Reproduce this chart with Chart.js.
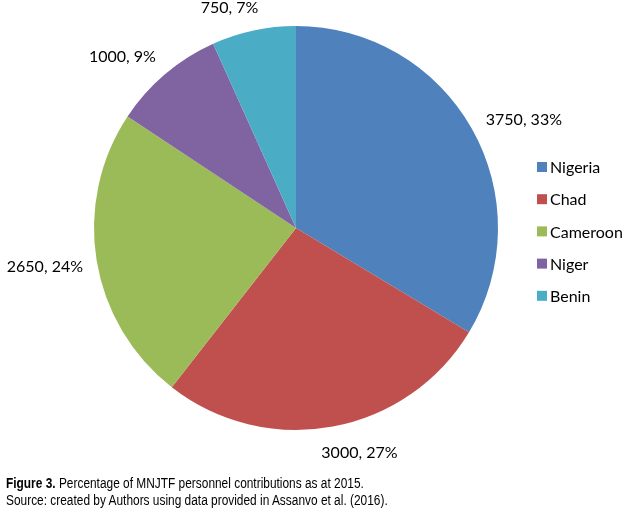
<!DOCTYPE html>
<html>
<head>
<meta charset="utf-8">
<script src="https://cdn.jsdelivr.net/npm/chart.js@4.4.0/dist/chart.umd.min.js"></script>
<style>
  html, body { margin: 0; padding: 0; background: #fff; }
  #wrap { position: relative; width: 627px; height: 511px; }
  #pie { position: absolute; left: 0; top: 0; }
  .caption {
    position: absolute; left: 6px; top: 475px;
    font-family: "Liberation Sans", Arial, sans-serif;
    font-size: 14px; line-height: 17px; color: #000;
    white-space: nowrap;
    transform: scaleX(0.85); transform-origin: 0 0;
  }
</style>
</head>
<body>
<div id="wrap">
  <canvas id="pie" width="627" height="511"></canvas>
  <div class="caption">
    <b>Figure 3.</b> Percentage of MNJTF personnel contributions as at 2015.<br>
    Source: created by Authors using data provided in Assanvo et al. (2016).
  </div>
</div>
<script>
// MNJTF personnel contributions, 2015
const countries = ['Nigeria', 'Chad', 'Cameroon', 'Niger', 'Benin'];
const troops = [3750, 3000, 2650, 1000, 750];
const shares = ['33%', '27%', '24%', '9%', '7%'];
const sliceColors = ['#4F81BD', '#C0504D', '#9BBB59', '#8064A2', '#4BACC6'];

const labelFont = '16px Lato, "Open Sans", sans-serif';
// Excel nudges some labels off the slice middle (degrees)
const labelNudgeDeg = [3.8, -5.3, 0.8, -4.9, -4.6];

// labels just outside each slice, Excel style
const outsideLabels = {
    id: 'outsideLabels',
    afterDatasetsDraw(chart) {
        const ctx = chart.ctx;
        const arcs = chart.getDatasetMeta(0).data;
        ctx.save();
        ctx.font = labelFont;
        ctx.fillStyle = '#000';
        ctx.textAlign = 'center';
        ctx.textBaseline = 'middle';
        arcs.forEach((arc, i) => {
            const text = troops[i] + ', ' + shares[i];
            const mid = (arc.startAngle + arc.endAngle) / 2 + labelNudgeDeg[i] * Math.PI / 180;
            const cos = Math.cos(mid), sin = Math.sin(mid);
            const w = ctx.measureText(text).width;
            const h = 16;
            const extent = Math.abs(cos) * w / 2 + Math.abs(sin) * h / 2;
            const r = arc.outerRadius + 13 + extent;
            ctx.fillText(text, arc.x + r * cos, arc.y + r * sin + 1);
        });
        ctx.restore();
    }
};

// legend on the right
const sideLegend = {
    id: 'sideLegend',
    afterDraw(chart) {
        const ctx = chart.ctx;
        ctx.save();
        ctx.font = labelFont;
        ctx.textBaseline = 'middle';
        countries.forEach((name, i) => {
            const y = 167 + i * 32.2;
            ctx.fillStyle = sliceColors[i];
            ctx.fillRect(537, y - 5, 10, 10);
            ctx.fillStyle = '#000';
            ctx.fillText(name, 550, y + 1);
        });
        ctx.restore();
    }
};

new Chart(document.getElementById('pie'), {
    type: 'pie',
    data: {
        labels: countries,
        datasets: [{
            data: troops,
            backgroundColor: sliceColors,
            borderWidth: 0
        }]
    },
    options: {
        responsive: false,
        animation: false,
        layout: {
            padding: { left: 94, right: 129, top: 26, bottom: 81 }
        },
        plugins: {
            legend: { display: false },
            tooltip: { enabled: false }
        }
    },
    plugins: [outsideLabels, sideLegend]
});
</script>
</body>
</html>
